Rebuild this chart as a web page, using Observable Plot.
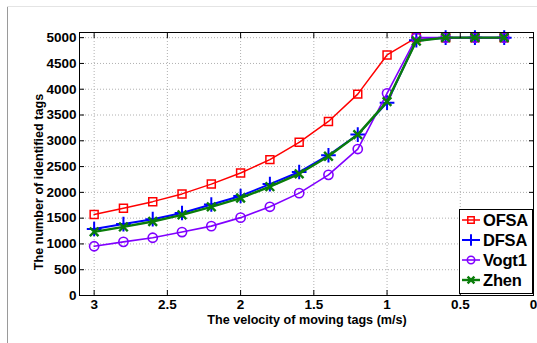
<!DOCTYPE html>
<html>
<head>
<meta charset="utf-8">
<script src="https://cdn.jsdelivr.net/npm/d3@7"></script>
<script src="https://cdn.jsdelivr.net/npm/@observablehq/plot@0.6"></script>
<style>
  body { margin: 0; background: #fff; }
  #wrap { position: relative; width: 537px; height: 343px; overflow: hidden; font-family: "Liberation Sans", Arial, sans-serif; }
  #bl { position: absolute; left: 7px; top: 6px; width: 1px; height: 337px; background: #9a9a9a; }
  #bt { position: absolute; left: 7px; top: 6px; width: 530px; height: 1px; background: #e4e4e4; }
  .lab { position: absolute; font-weight: bold; font-size: 12.6px; line-height: 13px; color: #000; white-space: nowrap; }
  #ylab { left: 39px; top: 182px; transform: translate(-50%, -50%) rotate(-90deg); }
  #xlab { left: 307px; top: 319.5px; transform: translate(-50%, -50%); }
  #legend { position: absolute; left: 459px; top: 209px; width: 72px; height: 83px; border: 1.5px solid #000; background: #fff; }
  .row { position: absolute; left: 0; height: 20px; display: flex; align-items: center; }
  .row span { font-weight: bold; font-size: 16.5px; line-height: 18px; margin-left: 1px; letter-spacing: -0.2px; }
</style>
</head>
<body>
<div id="wrap">
  <div id="bl"></div>
  <div id="bt"></div>
  <div id="plot" style="position:absolute;left:0;top:0;"></div>
  <div class="lab" id="ylab">The number of identified tags</div>
  <div class="lab" id="xlab">The velocity of moving tags (m/s)</div>
  <div id="legend"></div>
</div>
<script>
const velocity = [3, 2.8, 2.6, 2.4, 2.2, 2.0, 1.8, 1.6, 1.4, 1.2, 1.0, 0.8, 0.6, 0.4, 0.2];
const ofsa  = [1570, 1690, 1820, 1970, 2160, 2375, 2635, 2970, 3375, 3905, 4665, 5000, 5000, 5000, 5000];
const dfsa  = [1290, 1385, 1480, 1600, 1765, 1930, 2160, 2395, 2720, 3120, 3740, 4950, 5000, 5000, 5000];
const vogt1 = [955, 1040, 1120, 1230, 1345, 1510, 1720, 1985, 2340, 2840, 3920, 5000, 5000, 5000, 5000];
const zhen  = [1235, 1330, 1435, 1565, 1720, 1890, 2110, 2360, 2700, 3120, 3760, 4935, 5000, 5000, 5000];
const seriesNames = ["OFSA", "DFSA", "Vogt1", "Zhen"];
const xTicks = [3, 2.5, 2, 1.5, 1, 0.5, 0];
const yTicks = [0, 500, 1000, 1500, 2000, 2500, 3000, 3500, 4000, 4500, 5000];

const styles = {
  OFSA:  {color: "#ff0000", symbol: "square", r: 4.5, sw: 1.5},
  DFSA:  {color: "#0000ff", symbol: "plus", r: 4.8, sw: 2},
  Vogt1: {color: "#8000ff", symbol: "circle", r: 4.6, sw: 1.6},
  Zhen:  {color: "#0a7d0a", symbol: "times", r: 4.0, sw: 2.4}
};
const valuesBy = {OFSA: ofsa, DFSA: dfsa, Vogt1: vogt1, Zhen: zhen};
const rows = seriesNames.map(name => velocity.map((v, i) => ({name, v, n: valuesBy[name][i]})));

const marks = [
  Plot.gridX(xTicks, {stroke: "#b0b0b0", strokeOpacity: 1, strokeDasharray: "1,2"}),
  Plot.gridY(yTicks, {stroke: "#b0b0b0", strokeOpacity: 1, strokeDasharray: "1,2"}),
];
for (const [k, name] of seriesNames.entries()) {
  const s = styles[name];
  marks.push(Plot.line(rows[k], {x: "v", y: "n", stroke: s.color, strokeWidth: s.sw}));
  marks.push(Plot.dot(rows[k], {x: "v", y: "n", stroke: s.color, symbol: s.symbol, r: s.r, strokeWidth: s.sw, fill: "none"}));
}
marks.push(
  Plot.frame({stroke: "#000", strokeWidth: 1}),
  Plot.axisX(xTicks, {anchor: "bottom", tickSize: 0, tickPadding: 4, tickFormat: d => `${d}`, fontSize: 13.5, fontWeight: "bold", label: null}),
  Plot.axisX(xTicks, {anchor: "bottom", tickSize: -5, tickFormat: () => "", label: null}),
  Plot.axisX(xTicks, {anchor: "top", tickSize: -5, tickFormat: () => "", label: null}),
  Plot.axisY(yTicks, {anchor: "left", tickSize: 0, tickPadding: 3, tickFormat: d => `${d}`, fontSize: 13.5, fontWeight: "bold", label: null}),
  Plot.axisY(yTicks, {anchor: "left", tickSize: -5, tickFormat: () => "", label: null}),
  Plot.axisY(yTicks, {anchor: "right", tickSize: -5, tickFormat: () => "", label: null})
);

const chart = Plot.plot({
  width: 537,
  height: 343,
  marginLeft: 79,
  marginRight: 4,
  marginTop: 32,
  marginBottom: 48,
  style: {fontFamily: "'Liberation Sans', Arial, sans-serif", color: "#000", background: "transparent"},
  x: {domain: [3.1, 0]},
  y: {domain: [0, 5100]},
  marks
});
document.getElementById("plot").appendChild(chart);

// legend
const legend = document.getElementById("legend");
seriesNames.forEach((name, i) => {
  const s = styles[name];
  const row = document.createElement("div");
  row.className = "row";
  row.style.top = (-0.5 + i * 20.3) + "px";
  const sym = d3.symbol().type({square: d3.symbolSquare, plus: d3.symbolPlus, circle: d3.symbolCircle, times: d3.symbolTimes}[s.symbol]).size(Math.PI * (s.r * 0.8) ** 2)();
  row.innerHTML = `<svg width="22" height="20"><line x1="2" x2="20" y1="10" y2="10" stroke="${s.color}" stroke-width="${s.sw}"/><path transform="translate(11,10)" d="${sym}" fill="none" stroke="${s.color}" stroke-width="${s.sw}"/></svg><span>${name}</span>`;
  legend.appendChild(row);
});
</script>
</body>
</html>
